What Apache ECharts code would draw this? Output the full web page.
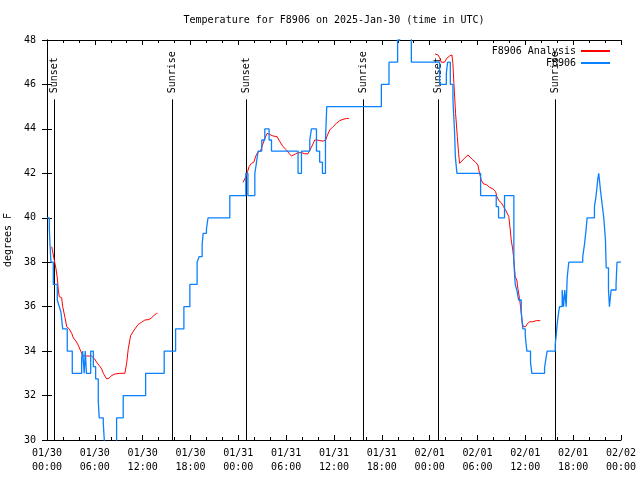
<!DOCTYPE html>
<html><head><meta charset="utf-8">
<script src="https://cdn.jsdelivr.net/npm/echarts/dist/echarts.min.js"></script>
<style>html,body{margin:0;padding:0;background:#fff}#c{width:640px;height:480px}</style>
</head><body><div id="c"></div>
<script>
// ---- data (x = hours since 2025-01-30 00:00 UTC) ----
const titleText = 'Temperature for F8906 on 2025-Jan-30 (time in UTC)';
const yAxisName = 'degrees F';
const xTickLabels = ['01/30\n00:00','01/30\n06:00','01/30\n12:00','01/30\n18:00',
  '01/31\n00:00','01/31\n06:00','01/31\n12:00','01/31\n18:00',
  '02/01\n00:00','02/01\n06:00','02/01\n12:00','02/01\n18:00','02/02\n00:00'];
const seriesNames = ['F8906 Analysis', 'F8906'];

const sunEvents = [[0.91,'Sunset'],[15.70,'Sunrise'],[24.97,'Sunset'],[39.64,'Sunrise'],[49.04,'Sunset'],[63.70,'Sunrise']];
const sunLineTop = 45.33;

const blueObs = [
[0.00,40.0],[0.29,39.5],[0.38,38.75],[0.50,38.0],[0.79,37.0],[1.29,36.3],[1.54,36.0],[1.75,35.75],[1.97,35.0],[2.54,34.0],[3.17,33.0],[4.35,33.7],[4.47,34.0],[4.67,33.0],[4.80,34.0],[4.95,33.0],[5.48,34.0],[5.81,33.3],[6.10,32.75],[6.43,31.75],[6.55,31.0],[7.06,30.75],[7.27,29.5],[8.73,31.0],[9.56,32.0],[12.37,33.0],[14.70,34.0],[16.13,35.0],[17.17,36.0],[17.92,37.0],[18.83,38.0],[19.08,38.25],[19.46,38.8],[19.59,39.3],[20.00,39.5],[20.20,40.0],[22.93,41.0],[24.94,42.0],[25.20,41.0],[26.07,42.0],[26.28,42.5],[26.48,43.0],[26.94,43.5],[27.32,44.0],[27.86,43.5],[28.16,43.0],[31.49,42.0],[31.92,43.0],[32.96,43.5],[33.17,44.0],[33.80,43.0],[34.20,42.5],[34.55,42.0],[34.93,43.5],[35.09,45.0],[41.94,46.0],[42.90,47.0],[43.98,48.0],[44.24,48.5],[45.70,47.0],[49.25,46.0],[50.09,46.5],[50.25,47.0],[50.59,46.0],[50.92,45.3],[51.13,43.8],[51.22,42.75],[51.42,42.0],[54.39,41.0],[56.35,40.5],[56.64,40.0],[57.39,41.0],[58.56,38.0],[58.73,37.0],[58.93,36.75],[59.15,36.3],[59.49,35.75],[59.69,35.0],[59.99,34.7],[60.19,34.0],[60.65,33.5],[60.82,33.0],[62.41,33.25],[62.62,33.75],[62.74,34.0],[63.75,34.3],[63.87,34.7],[64.00,35.25],[64.20,35.8],[64.29,36.0],[64.62,36.75],[64.79,36.0],[64.95,36.75],[65.12,36.0],[65.25,37.3],[65.45,38.0],[67.20,38.25],[67.42,38.8],[67.63,39.5],[67.75,40.0],[68.67,40.5],[68.88,41.0],[69.09,41.75],[69.21,42.0],[69.42,41.25],[69.67,40.5],[69.84,40.0],[70.05,39.0],[70.14,37.75],[70.43,36.75],[70.55,36.0],[70.76,36.75],[71.38,37.0],[71.50,38.0],[72.0,38.0]
];

const redDay1 = [
[0.59,38.7],[0.91,38.1],[1.13,37.7],[1.29,37.3],[1.42,36.75],[1.54,36.45],[1.84,36.4],[1.97,36.0],[2.26,35.5],[2.47,35.1],[2.79,35.0],[3.10,34.8],[3.30,34.6],[3.63,34.45],[3.92,34.27],[4.26,33.97],[4.47,33.8],[4.97,33.78],[5.60,33.78],[5.93,33.67],[6.23,33.5],[6.55,33.35],[6.85,33.2],[7.06,33.0],[7.48,32.75],[7.77,32.78],[8.11,32.9],[8.52,32.97],[9.15,33.0],[9.77,33.0],[9.99,33.45],[10.19,34.1],[10.49,34.7],[10.74,34.75],[11.03,35.0],[11.44,35.2],[11.87,35.3],[12.28,35.4],[12.78,35.42],[13.12,35.5],[13.41,35.6],[13.75,35.7],[13.87,35.7]
];
const redDay2 = [
[24.60,41.6],[24.94,41.85],[25.15,42.07],[25.35,42.3],[25.65,42.45],[25.94,42.5],[26.19,42.78],[26.48,42.97],[26.78,43.0],[27.03,43.27],[27.32,43.57],[27.61,43.8],[27.86,43.75],[28.36,43.68],[28.86,43.65],[29.20,43.43],[29.61,43.2],[30.04,43.05],[30.36,42.9],[30.66,42.78],[30.86,42.78],[31.20,42.88],[31.49,42.93],[31.92,42.93],[32.33,42.88],[32.74,42.88],[32.96,42.97],[33.30,43.27],[33.58,43.5],[33.87,43.5],[34.21,43.47],[34.62,43.45],[34.96,43.5],[35.13,43.68],[35.46,43.95],[35.88,44.1],[36.30,44.25],[36.72,44.37],[37.13,44.43],[37.56,44.47],[37.88,44.47]
];
const redDay3 = [
[48.68,47.37],[49.04,47.33],[49.25,47.2],[49.46,47.0],[49.87,47.0],[50.16,47.18],[50.50,47.28],[50.79,47.33],[50.91,46.95],[51.04,46.05],[51.25,44.7],[51.47,43.65],[51.63,42.9],[51.75,42.45],[51.97,42.5],[52.38,42.68],[52.79,42.83],[53.01,42.8],[53.34,42.63],[53.76,42.5],[54.05,42.37],[54.26,42.0],[54.47,41.7],[54.76,41.52],[55.10,41.5],[55.51,41.37],[55.93,41.3],[56.27,41.18],[56.43,40.95],[56.68,40.77],[56.98,40.68],[57.27,40.5],[57.52,40.35],[57.68,40.27],[57.93,40.05],[58.11,39.45],[58.23,39.0],[58.43,38.55],[58.56,38.1],[58.73,37.35],[58.93,37.2],[59.06,36.83],[59.27,36.37],[59.40,36.0],[59.49,35.7],[59.61,35.25],[59.77,35.1],[60.03,35.1],[60.19,35.2],[60.53,35.32],[60.94,35.32],[61.37,35.37],[61.87,35.37]
];

// ---- chart ----
const FONT = '"DejaVu Sans Mono", "Liberation Mono", monospace';
const redData = [].concat(redDay1, [[24.0, null]], redDay2, [[48.0, null]], redDay3);

const chart = echarts.init(document.getElementById('c'), null, {renderer: 'canvas'});

const xAxisBase = {
  type: 'value', min: 0, max: 72, interval: 6,
  axisLine: {show: true, lineStyle: {color: '#000', width: 1}},
  axisTick: {show: true, inside: true, length: 5, lineStyle: {color: '#000'}},
  minorTick: {show: true, splitNumber: 3, length: 3, lineStyle: {color: '#000'}},
  splitLine: {show: false}, minorSplitLine: {show: false}
};
const yAxisBase = {
  type: 'value', min: 30, max: 48, interval: 2,
  axisLine: {show: true, lineStyle: {color: '#000', width: 1}},
  axisTick: {show: true, inside: true, length: 5, lineStyle: {color: '#000'}},
  splitLine: {show: false}
};

chart.setOption({
  animation: false,
  backgroundColor: '#fff',
  textStyle: {fontFamily: FONT},
  title: {
    text: titleText, left: 334, top: 15, textAlign: 'center', padding: 0,
    textStyle: {fontFamily: FONT, fontSize: 10, fontWeight: 'normal', color: '#000'}
  },
  legend: [
    {data: [seriesNames[0]], right: 30, top: 46, align: 'right', icon: 'rect',
     itemWidth: 29, itemHeight: 2, padding: 0,
     textStyle: {fontFamily: FONT, fontSize: 10, color: '#000'}},
    {data: [seriesNames[1]], right: 30, top: 58, align: 'right', icon: 'rect',
     itemWidth: 29, itemHeight: 2, padding: 0,
     textStyle: {fontFamily: FONT, fontSize: 10, color: '#000'}}
  ],
  grid: {left: 47, right: 19, top: 40, bottom: 40, containLabel: false, outerBoundsMode: 'none'},
  xAxis: [
    Object.assign({}, xAxisBase, {
      position: 'bottom',
      axisLabel: {show: true, margin: 6, fontFamily: FONT, fontSize: 10, lineHeight: 14, color: '#000',
        formatter: v => xTickLabels[Math.round(v / 6)]}
    }),
    Object.assign({}, xAxisBase, {position: 'top', axisLabel: {show: false}})
  ],
  yAxis: [
    Object.assign({}, yAxisBase, {
      position: 'left', name: yAxisName, nameLocation: 'middle', nameRotate: 90, nameGap: 33,
      nameTextStyle: {fontFamily: FONT, fontSize: 10, color: '#000'},
      axisLabel: {show: true, margin: 11, fontFamily: FONT, fontSize: 10, color: '#000'}
    }),
    Object.assign({}, yAxisBase, {position: 'right', axisLabel: {show: false}})
  ],
  series: [
    {
      type: 'custom', name: 'sun', z: 1, silent: true,
      data: sunEvents.map(e => [e[0], sunLineTop]),
      encode: {x: 0, y: 1},
      renderItem: function (params, api) {
        const t = api.value(0);
        const top = api.coord([t, sunLineTop]);
        const bot = api.coord([t, 30]);
        const x = Math.round(top[0]) + 0.5;
        return {type: 'group', children: [
          {type: 'line', shape: {x1: x, y1: top[1], x2: x, y2: bot[1]},
           style: {stroke: '#000', lineWidth: 1}},
          {type: 'text', x: x, y: top[1] - 6, rotation: Math.PI / 2,
           style: {text: sunEvents[params.dataIndex][1], font: '10px ' + FONT, fill: '#000',
                   align: 'left', verticalAlign: 'middle'}}
        ]};
      }
    },
    {
      name: seriesNames[0], type: 'line', z: 3, data: redData, symbol: 'none', showSymbol: false,
      connectNulls: false, color: '#ff0000', lineStyle: {color: '#ff0000', width: 1}
    },
    {
      name: seriesNames[1], type: 'line', z: 4, data: blueObs, step: 'end', symbol: 'none', showSymbol: false,
      color: '#0a80ff', lineStyle: {color: '#0a80ff', width: 1.3}
    }
  ]
});
</script>
</body></html>
